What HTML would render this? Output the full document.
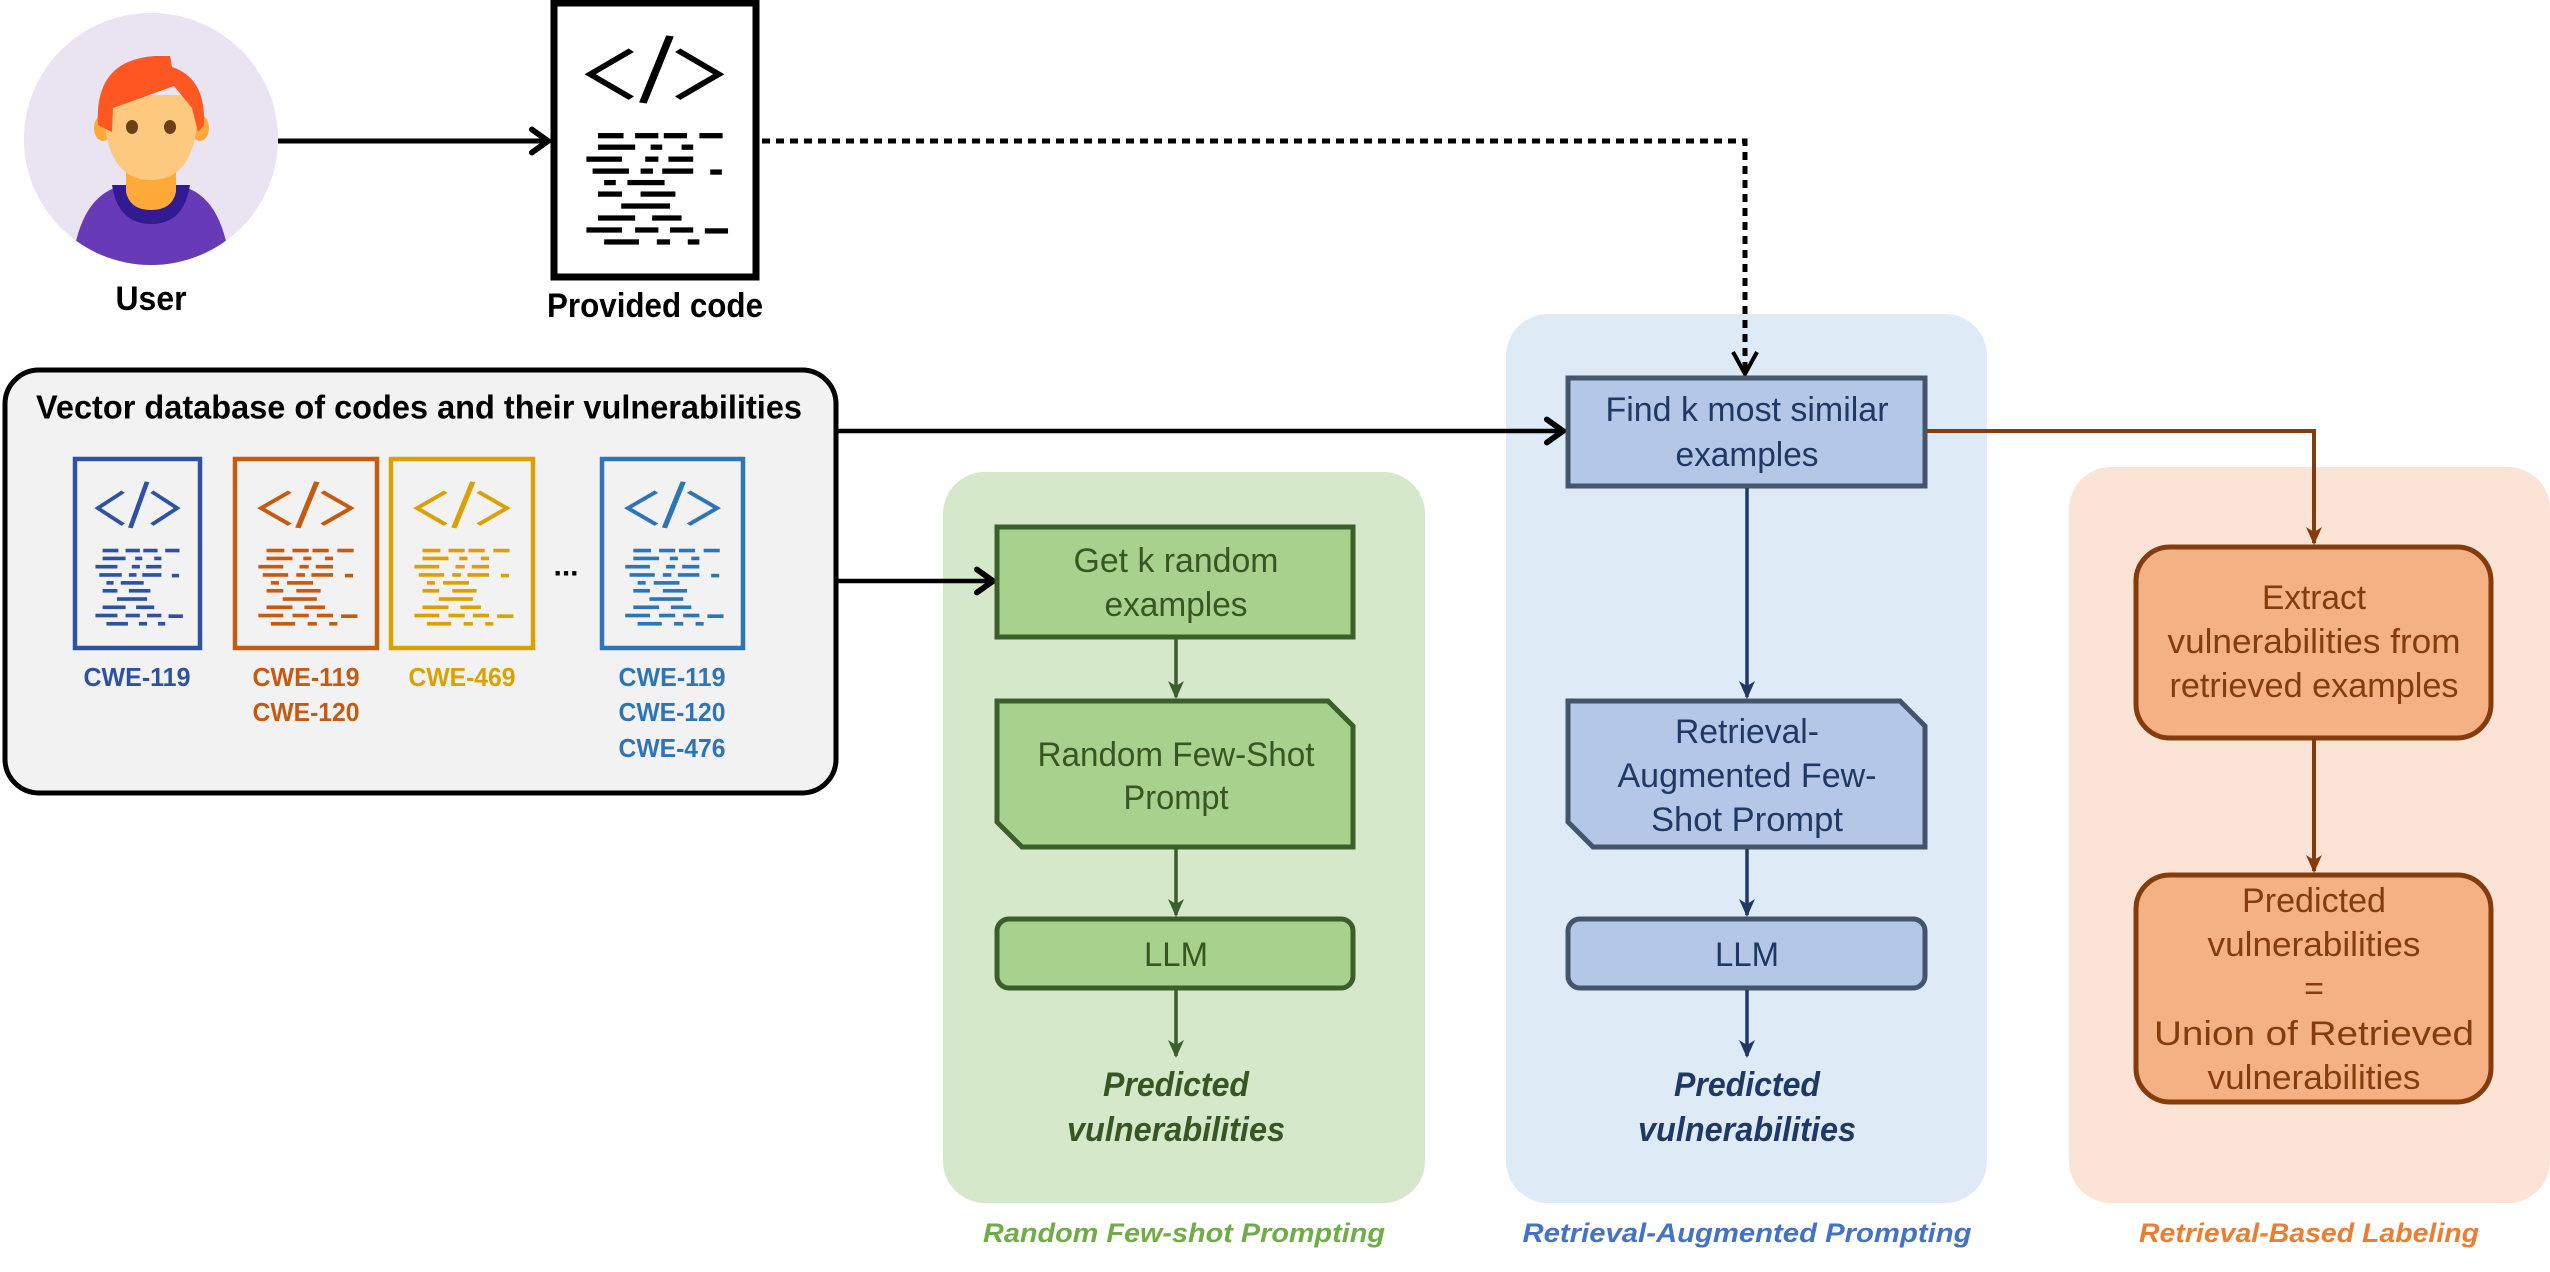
<!DOCTYPE html>
<html><head><meta charset="utf-8"><style>
html,body{margin:0;padding:0;background:#fff;}
svg{display:block;}
text{font-family:"Liberation Sans",sans-serif;}
</style></head><body>
<svg width="2550" height="1272" viewBox="0 0 2550 1272" xmlns="http://www.w3.org/2000/svg">
<defs>
<symbol id="code" viewBox="135 295 270 585" preserveAspectRatio="none">
  <g fill="none" stroke="currentColor" stroke-width="10">
    <polyline points="240,400 187,450 240,500"/>
    <line x1="290" y1="370" x2="255" y2="510"/>
    <polyline points="300,400 353,450 300,500"/>
  </g>
  <g fill="currentColor">
    <rect x="197" y="573" width="33" height="11"/><rect x="245" y="573" width="30" height="11"/><rect x="282" y="573" width="30" height="11"/><rect x="328" y="573" width="30" height="11"/>
    <rect x="197" y="597" width="48" height="11"/><rect x="265" y="597" width="15" height="11"/><rect x="305" y="597" width="15" height="11"/>
    <rect x="182" y="622" width="46" height="11"/><rect x="258" y="622" width="17" height="11"/><rect x="288" y="622" width="32" height="11"/>
    <rect x="190" y="647" width="47" height="11"/><rect x="252" y="647" width="16" height="11"/><rect x="280" y="647" width="40" height="11"/><rect x="342" y="649" width="15" height="11"/>
    <rect x="205" y="671" width="15" height="11"/><rect x="235" y="671" width="48" height="11"/>
    <rect x="197" y="695" width="31" height="11"/><rect x="252" y="695" width="45" height="11"/>
    <rect x="227" y="720" width="63" height="11"/>
    <rect x="197" y="745" width="48" height="11"/><rect x="267" y="745" width="38" height="11"/>
    <rect x="182" y="770" width="46" height="11"/><rect x="245" y="770" width="30" height="11"/><rect x="290" y="770" width="30" height="11"/><rect x="335" y="772" width="30" height="11"/>
    <rect x="205" y="795" width="45" height="11"/><rect x="273" y="795" width="17" height="11"/><rect x="313" y="795" width="15" height="11"/>
  </g>
</symbol>
<marker id="chev" markerUnits="userSpaceOnUse" markerWidth="30" markerHeight="30" refX="22" refY="12" orient="auto" viewBox="0 0 26 24">
  <polyline points="8,2 22,12 8,22" fill="none" stroke="#000" stroke-width="5" stroke-linecap="round"/>
</marker>
<marker id="ag" markerUnits="userSpaceOnUse" markerWidth="18" markerHeight="24" refX="16" refY="8" orient="auto" viewBox="0 0 18 16"><path d="M0,0 L18,8 L0,16 L5,8z" fill="#3b5f2a"/></marker>
<marker id="ab" markerUnits="userSpaceOnUse" markerWidth="18" markerHeight="24" refX="16" refY="8" orient="auto" viewBox="0 0 18 16"><path d="M0,0 L18,8 L0,16 L5,8z" fill="#1f3864"/></marker>
<marker id="ao" markerUnits="userSpaceOnUse" markerWidth="18" markerHeight="24" refX="16" refY="8" orient="auto" viewBox="0 0 18 16"><path d="M0,0 L18,8 L0,16 L5,8z" fill="#843c0c"/></marker>
<clipPath id="uc"><ellipse cx="151" cy="139" rx="127" ry="126"/></clipPath>
</defs>

<!-- panels -->
<rect x="943" y="472" width="482" height="731" rx="42" fill="#d5e8ca"/>
<rect x="1506" y="314" width="481" height="889" rx="42" fill="#deeaf6"/>
<rect x="2069" y="467" width="481" height="736" rx="42" fill="#fbe4d5"/>

<!-- user -->
<ellipse cx="151" cy="139" rx="127" ry="126" fill="#e9e3f2"/>
<g clip-path="url(#uc)">
  <path d="M72,265 Q80,192 126,185 L176,185 Q222,192 230,265 Z" fill="#673ab7"/>
  <path d="M112,185 Q118,224 151,224 Q184,224 190,185 Z" fill="#311b92"/>
  <path d="M126,160 L176,160 L176,192 Q172,210 151,210 Q130,210 126,192 Z" fill="#ffa93a"/>
  <ellipse cx="103" cy="128" rx="9" ry="13" fill="#ffa93a"/>
  <ellipse cx="200" cy="128" rx="9" ry="13" fill="#ffa93a"/>
  <path d="M104,105 Q104,180 151,180 Q198,180 198,105 L198,95 L104,95 Z" fill="#fdc97f"/>
  <path d="M98,125 Q94,60 155,56 L170,56 L172,67 Q206,78 204,125 L198,132 L192,108 L174,86 L113,108 L112,132 Z" fill="#ff5722"/>
  <ellipse cx="132" cy="127" rx="6" ry="7" fill="#6d3f16"/>
  <ellipse cx="170" cy="127" rx="6" ry="7" fill="#6d3f16"/>
</g>
<text x="151" y="299" font-size="34" font-weight="bold" text-anchor="middle" dominant-baseline="central" textLength="71" lengthAdjust="spacingAndGlyphs">User</text>

<!-- provided code -->
<rect x="554" y="3" width="202" height="274" fill="#fff" stroke="#000" stroke-width="7"/>
<use href="#code" x="550" y="0" width="209" height="280" style="color:#000"/>
<text x="655" y="306" font-size="34" font-weight="bold" text-anchor="middle" dominant-baseline="central" textLength="216" lengthAdjust="spacingAndGlyphs">Provided code</text>

<!-- arrows top -->
<line x1="278" y1="141" x2="548" y2="141" stroke="#000" stroke-width="5" marker-end="url(#chev)"/>
<polyline points="762,141 1745,141 1745,375" fill="none" stroke="#000" stroke-width="5" stroke-dasharray="8,6"/>
<polyline points="1733,352 1745,374 1757,352" fill="none" stroke="#000" stroke-width="4"/>

<!-- vector DB -->
<rect x="5" y="370" width="831" height="423" rx="34" fill="#f2f2f2" stroke="#000" stroke-width="5"/>
<text x="36" y="407" font-size="33" font-weight="bold" dominant-baseline="central" textLength="766" lengthAdjust="spacingAndGlyphs">Vector database of codes and their vulnerabilities</text>
<g fill="none" stroke-width="4.5">
  <rect x="75" y="459" width="125" height="189" stroke="#2f52a0"/>
  <rect x="235" y="459" width="142" height="189" stroke="#c55a11"/>
  <rect x="391" y="459" width="142" height="189" stroke="#dba102"/>
  <rect x="602" y="459" width="141" height="189" stroke="#2e75b6"/>
</g>
<use href="#code" x="73" y="457" width="129" height="193" style="color:#2f52a0"/>
<use href="#code" x="233" y="457" width="146" height="193" style="color:#c55a11"/>
<use href="#code" x="389" y="457" width="146" height="193" style="color:#dba102"/>
<use href="#code" x="600" y="457" width="145" height="193" style="color:#2e75b6"/>
<text x="566" y="566" font-size="30" font-weight="bold" text-anchor="middle" dominant-baseline="central">...</text>
<g font-size="26" font-weight="bold" text-anchor="middle" dominant-baseline="central">
  <text x="137" y="677" fill="#2f52a0" textLength="107" lengthAdjust="spacingAndGlyphs">CWE-119</text>
  <text x="306" y="677" fill="#c55a11" textLength="107" lengthAdjust="spacingAndGlyphs">CWE-119</text>
  <text x="306" y="712" fill="#c55a11" textLength="107" lengthAdjust="spacingAndGlyphs">CWE-120</text>
  <text x="462" y="677" fill="#dba102" textLength="107" lengthAdjust="spacingAndGlyphs">CWE-469</text>
  <text x="672" y="677" fill="#2e75b6" textLength="107" lengthAdjust="spacingAndGlyphs">CWE-119</text>
  <text x="672" y="712" fill="#2e75b6" textLength="107" lengthAdjust="spacingAndGlyphs">CWE-120</text>
  <text x="672" y="748" fill="#2e75b6" textLength="107" lengthAdjust="spacingAndGlyphs">CWE-476</text>
</g>
<line x1="838" y1="431" x2="1563" y2="431" stroke="#000" stroke-width="4.5" marker-end="url(#chev)"/>
<line x1="838" y1="581" x2="993" y2="581" stroke="#000" stroke-width="4.5" marker-end="url(#chev)"/>

<!-- green column -->
<rect x="997" y="527" width="356" height="110" fill="#a9d18e" stroke="#3b5f2a" stroke-width="5"/>
<polygon points="997,701 1328,701 1353,726 1353,847 1022,847 997,822" fill="#a9d18e" stroke="#3b5f2a" stroke-width="5"/>
<rect x="997" y="919" width="356" height="69" rx="12" fill="#a9d18e" stroke="#3b5f2a" stroke-width="5"/>
<g stroke="#3b5f2a" stroke-width="3.5">
  <line x1="1176" y1="639" x2="1176" y2="697" marker-end="url(#ag)"/>
  <line x1="1176" y1="849" x2="1176" y2="915" marker-end="url(#ag)"/>
  <line x1="1176" y1="990" x2="1176" y2="1056" marker-end="url(#ag)"/>
</g>
<g font-size="34" fill="#375623" text-anchor="middle" dominant-baseline="central" lengthAdjust="spacingAndGlyphs">
  <text x="1176" y="561" textLength="205" lengthAdjust="spacingAndGlyphs">Get k random</text>
  <text x="1176" y="605" textLength="143" lengthAdjust="spacingAndGlyphs">examples</text>
  <text x="1176" y="755" textLength="277" lengthAdjust="spacingAndGlyphs">Random Few-Shot</text>
  <text x="1176" y="798" textLength="105" lengthAdjust="spacingAndGlyphs">Prompt</text>
  <text x="1176" y="955" textLength="64" lengthAdjust="spacingAndGlyphs">LLM</text>
  <g font-weight="bold" font-style="italic">
  <text x="1176" y="1085" textLength="146" lengthAdjust="spacingAndGlyphs">Predicted</text>
  <text x="1176" y="1130" textLength="218" lengthAdjust="spacingAndGlyphs">vulnerabilities</text>
  </g>
</g>
<text x="1184" y="1233" font-size="27" font-weight="bold" font-style="italic" fill="#70ad47" text-anchor="middle" dominant-baseline="central" textLength="402" lengthAdjust="spacingAndGlyphs">Random Few-shot Prompting</text>

<!-- blue column -->
<rect x="1568" y="378" width="357" height="108" fill="#b4c7e7" stroke="#44546a" stroke-width="5"/>
<polygon points="1568,701 1900,701 1925,726 1925,847 1593,847 1568,822" fill="#b4c7e7" stroke="#44546a" stroke-width="5"/>
<rect x="1568" y="919" width="357" height="69" rx="12" fill="#b4c7e7" stroke="#44546a" stroke-width="5"/>
<g stroke="#1f3864" stroke-width="3.5">
  <line x1="1747" y1="488" x2="1747" y2="697" marker-end="url(#ab)"/>
  <line x1="1747" y1="849" x2="1747" y2="915" marker-end="url(#ab)"/>
  <line x1="1747" y1="990" x2="1747" y2="1056" marker-end="url(#ab)"/>
</g>
<g font-size="34" fill="#1f3864" text-anchor="middle" dominant-baseline="central">
  <text x="1747" y="410" textLength="283" lengthAdjust="spacingAndGlyphs">Find k most similar</text>
  <text x="1747" y="455" textLength="143" lengthAdjust="spacingAndGlyphs">examples</text>
  <text x="1747" y="732" textLength="144" lengthAdjust="spacingAndGlyphs">Retrieval-</text>
  <text x="1747" y="776" textLength="259" lengthAdjust="spacingAndGlyphs">Augmented Few-</text>
  <text x="1747" y="820" textLength="192" lengthAdjust="spacingAndGlyphs">Shot Prompt</text>
  <text x="1747" y="955" textLength="64" lengthAdjust="spacingAndGlyphs">LLM</text>
  <g font-weight="bold" font-style="italic">
  <text x="1747" y="1085" textLength="146" lengthAdjust="spacingAndGlyphs">Predicted</text>
  <text x="1747" y="1130" textLength="218" lengthAdjust="spacingAndGlyphs">vulnerabilities</text>
  </g>
</g>
<text x="1747" y="1233" font-size="27" font-weight="bold" font-style="italic" fill="#4472c4" text-anchor="middle" dominant-baseline="central" textLength="449" lengthAdjust="spacingAndGlyphs">Retrieval-Augmented Prompting</text>

<!-- orange column -->
<polyline points="1927,431 2314,431 2314,543" fill="none" stroke="#843c0c" stroke-width="4" marker-end="url(#ao)"/>
<rect x="2136" y="547" width="355" height="191" rx="34" fill="#f4b183" stroke="#843c0c" stroke-width="5"/>
<rect x="2136" y="875" width="355" height="227" rx="34" fill="#f4b183" stroke="#843c0c" stroke-width="5"/>
<line x1="2314" y1="740" x2="2314" y2="871" stroke="#843c0c" stroke-width="4" marker-end="url(#ao)"/>
<g font-size="34" fill="#843c0c" text-anchor="middle" dominant-baseline="central">
  <text x="2314" y="598" textLength="104" lengthAdjust="spacingAndGlyphs">Extract</text>
  <text x="2314" y="642" textLength="293" lengthAdjust="spacingAndGlyphs">vulnerabilities from</text>
  <text x="2314" y="686" textLength="289" lengthAdjust="spacingAndGlyphs">retrieved examples</text>
  <text x="2314" y="901" textLength="144" lengthAdjust="spacingAndGlyphs">Predicted</text>
  <text x="2314" y="945" textLength="213" lengthAdjust="spacingAndGlyphs">vulnerabilities</text>
  <text x="2314" y="989">=</text>
  <text x="2314" y="1034" textLength="320" lengthAdjust="spacingAndGlyphs">Union of Retrieved</text>
  <text x="2314" y="1078" textLength="213" lengthAdjust="spacingAndGlyphs">vulnerabilities</text>
</g>
<text x="2309" y="1233" font-size="27" font-weight="bold" font-style="italic" fill="#ed7d31" text-anchor="middle" dominant-baseline="central" textLength="340" lengthAdjust="spacingAndGlyphs">Retrieval-Based Labeling</text>
</svg>
</body></html>
